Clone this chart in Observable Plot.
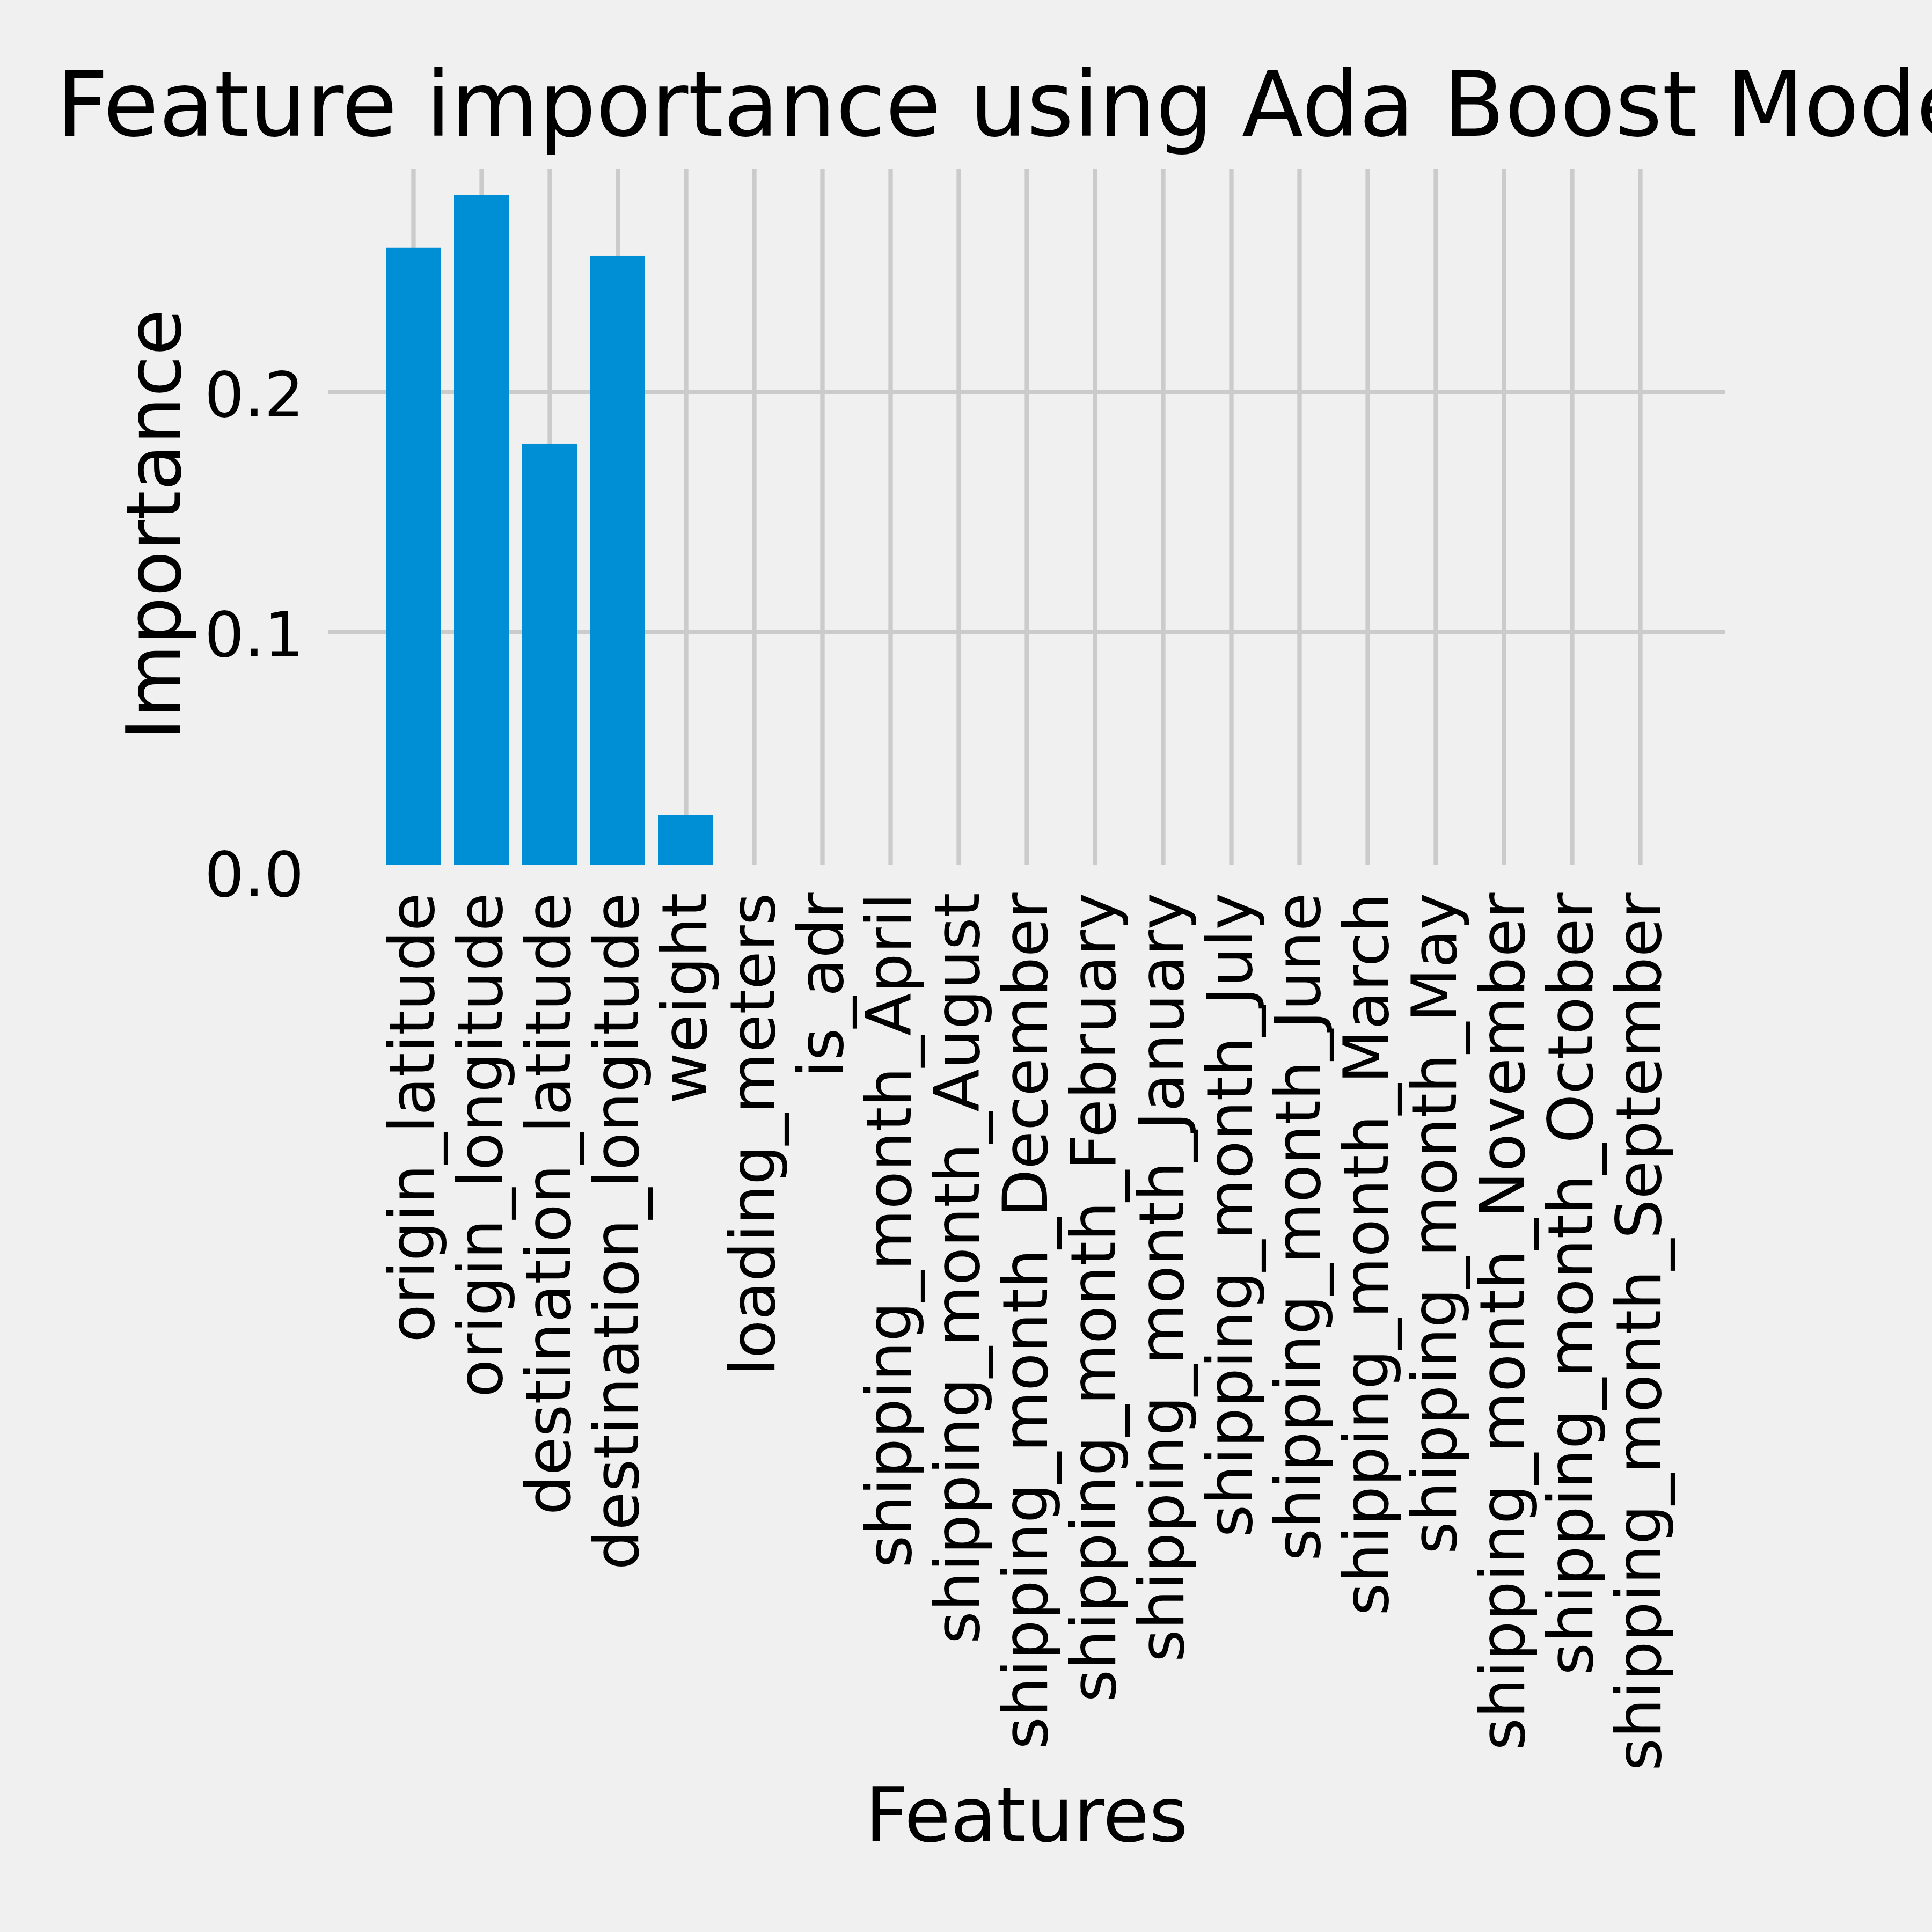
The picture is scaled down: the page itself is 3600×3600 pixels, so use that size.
<!DOCTYPE html>
<html>
<head>
<meta charset="utf-8">
<script src="https://cdn.jsdelivr.net/npm/d3@7"></script>
<script src="https://cdn.jsdelivr.net/npm/@observablehq/plot@0.6"></script>
<style>
  html, body { margin: 0; padding: 0; background: #f0f0f0; }
  #chart svg { display: block; background: #f0f0f0; }
</style>
</head>
<body>
<div id="chart"></div>
<script>
const titleText = "Feature importance using Ada Boost Model";
const xLabel = "Features";
const yLabel = "Importance";
const features = [
  "origin_latitude", "origin_longitude", "destination_latitude", "destination_longitude",
  "weight", "loading_meters", "is_adr",
  "shipping_month_April", "shipping_month_August", "shipping_month_December",
  "shipping_month_February", "shipping_month_January", "shipping_month_July",
  "shipping_month_June", "shipping_month_March", "shipping_month_May",
  "shipping_month_November", "shipping_month_October", "shipping_month_September"
];
const importances = [0.2600, 0.2819, 0.1783, 0.2566, 0.0237, 0, 0, 0, 0, 0, 0, 0, 0, 0, 0, 0, 0, 0, 0];
const yTicks = [0.0, 0.1, 0.2];
const yGrid = [0.1, 0.2];
const yDomain = [0.00268, 0.29306];

const data = features.map((f, i) => ({feature: f, importance: importances[i]}));

const W = 3600, H = 3600;
const mTop = 314, mLeft = 611, mRight = 386, mBottom = 1988;
const grid = "#cbcbcb", gw = 8.3;
const font = "DejaVu Sans";
const tickSize = 116.7;

const plot = Plot.plot({
  width: W,
  height: H,
  marginTop: mTop,
  marginLeft: mLeft,
  marginRight: mRight,
  marginBottom: mBottom,
  style: {background: "#f0f0f0", fontFamily: font, color: "black", overflow: "hidden"},
  x: {type: "band", domain: features, paddingInner: 0.2, paddingOuter: 0.83, axis: null},
  y: {domain: yDomain, axis: null},
  marks: [
    Plot.ruleY(yGrid, {stroke: grid, strokeWidth: gw}),
    Plot.ruleX(features, {x: d => d, stroke: grid, strokeWidth: gw}),
    Plot.barY(data, {x: "feature", y: "importance", fill: "#008fd5", clip: true}),
    Plot.text(yTicks, {y: d => d, frameAnchor: "left", text: d => d.toFixed(1), textAnchor: "end",
      lineAnchor: "middle", dx: -45, dy: 8, fontSize: tickSize, fill: "black", fontFamily: font}),
    Plot.text(features, {x: d => d, frameAnchor: "bottom", text: d => d, rotate: -90, textAnchor: "end",
      lineAnchor: "middle", dy: 51, fontSize: tickSize, fill: "black", fontFamily: font}),
    Plot.text([yLabel], {frameAnchor: "left", text: d => d, rotate: -90, textAnchor: "middle",
      lineAnchor: "bottom", dx: -276, dy: 14, fontSize: 140, fill: "black", fontFamily: font}),
    Plot.text([xLabel], {frameAnchor: "bottom", text: d => d, textAnchor: "middle",
      lineAnchor: "bottom", dy: 1818, fontSize: 140, fill: "black", fontFamily: font}),
    Plot.text([titleText], {frameAnchor: "top", text: d => d, textAnchor: "middle",
      lineAnchor: "bottom", dy: -62, fontSize: 168, fill: "black", fontFamily: font})
  ]
});
document.getElementById("chart").appendChild(plot);
</script>
</body>
</html>
